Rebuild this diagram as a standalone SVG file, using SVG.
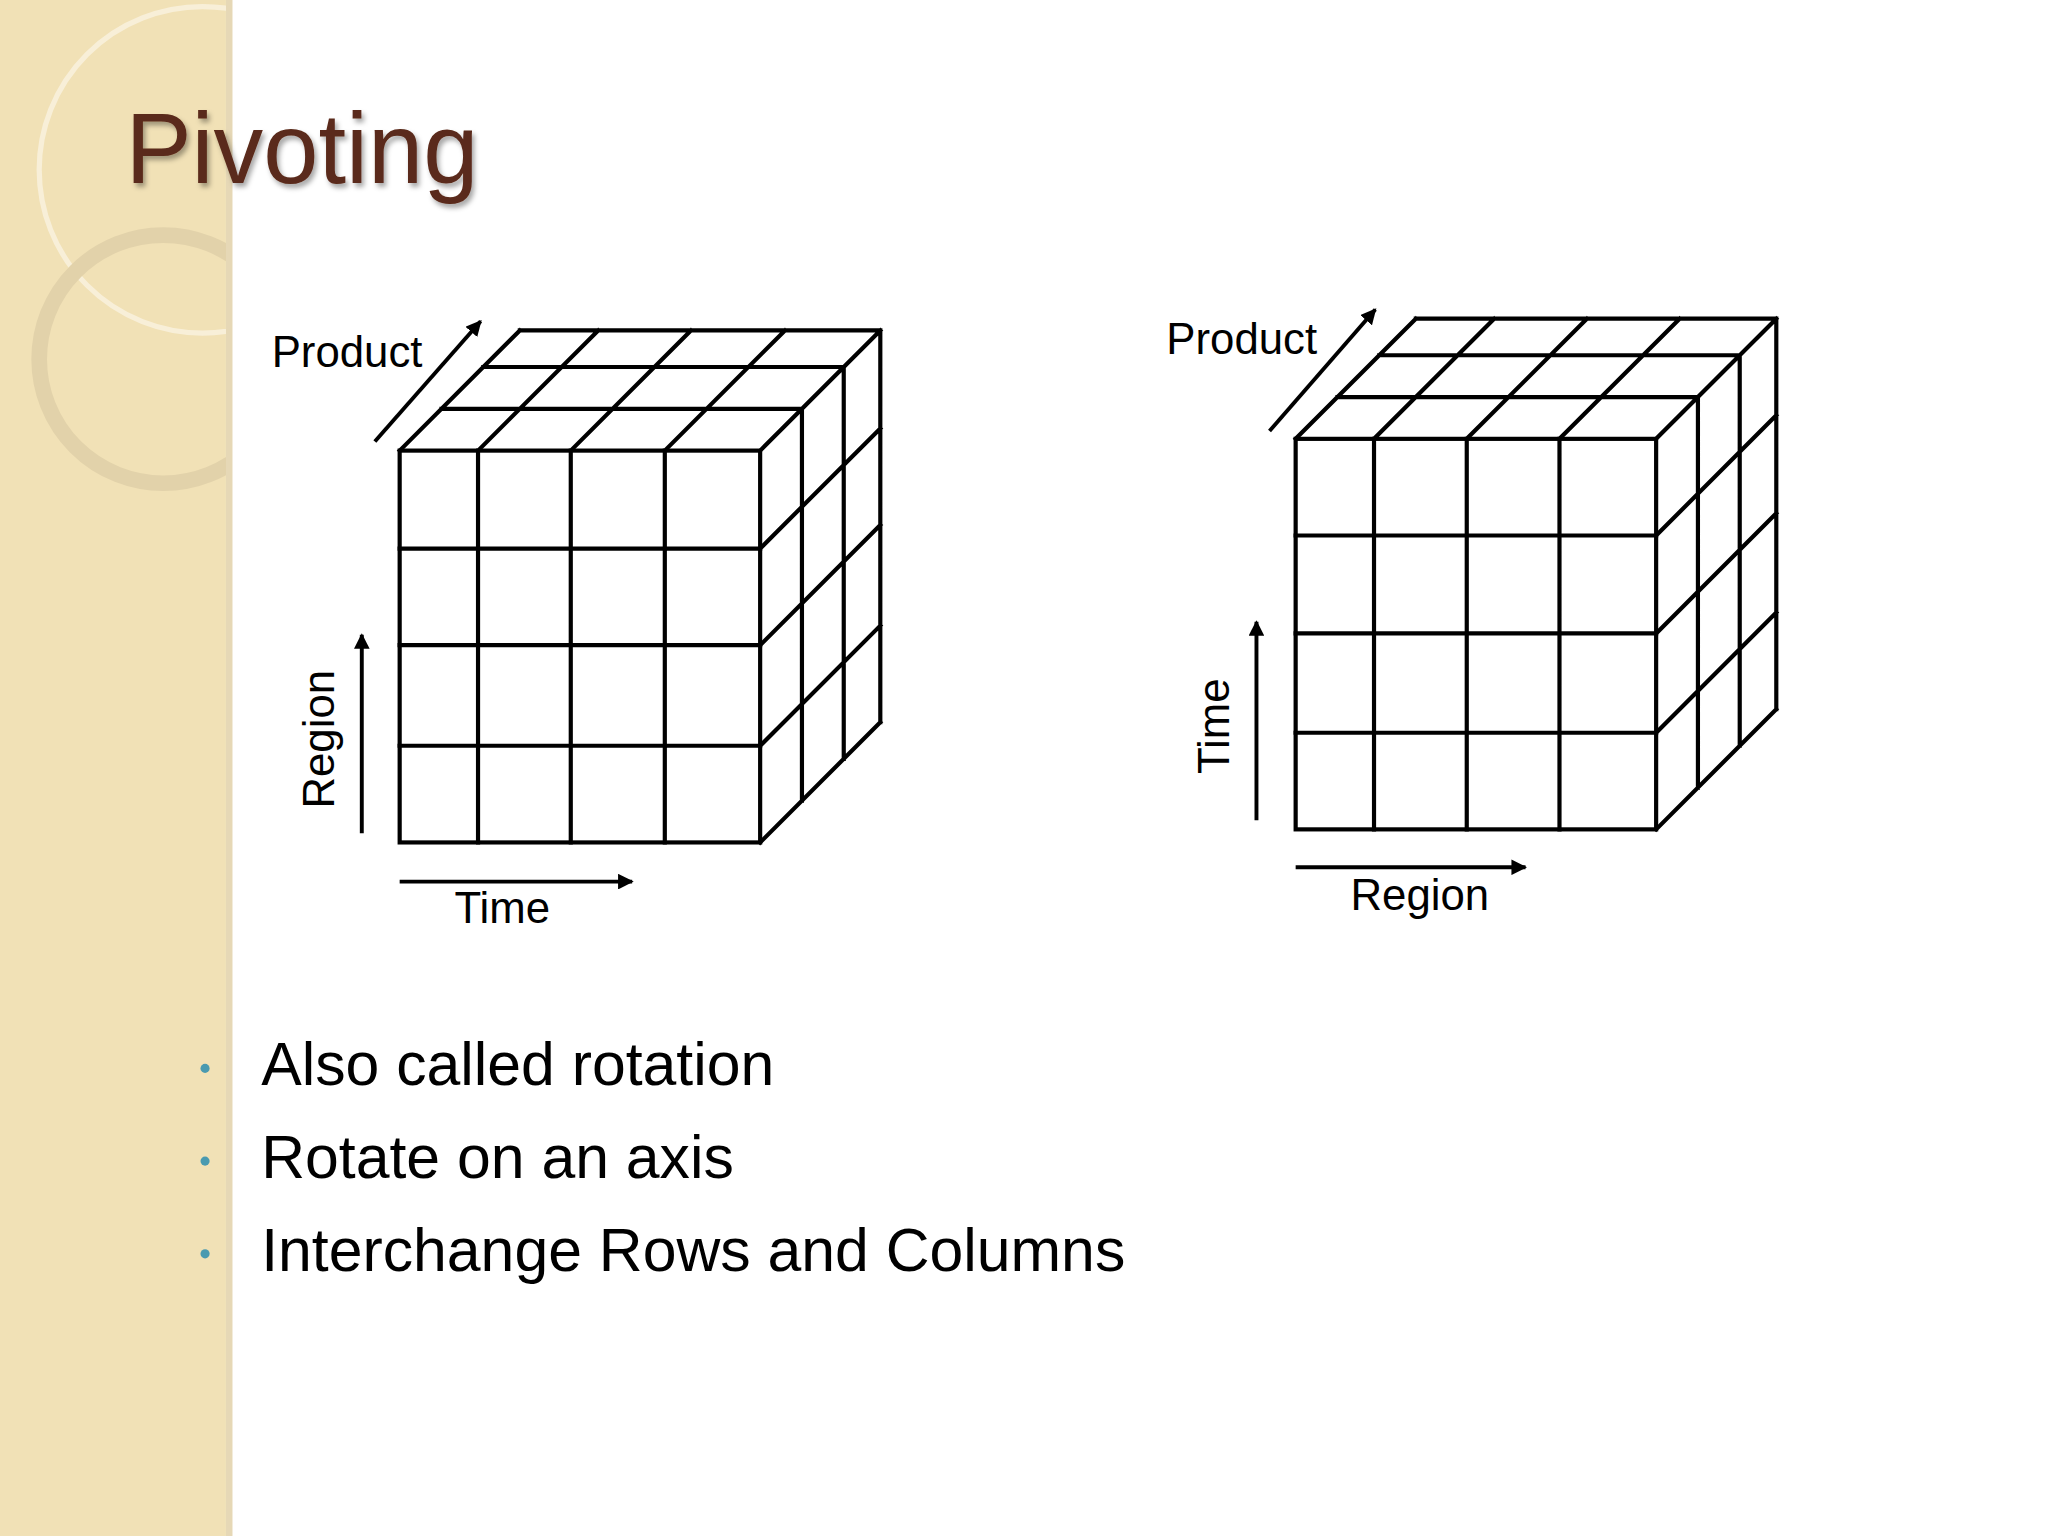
<svg xmlns="http://www.w3.org/2000/svg" width="2048" height="1536" viewBox="0 0 2048 1536">
<style>
.g{stroke:#000;stroke-width:3.2;fill:none;stroke-linecap:square}
.a{stroke:#000;stroke-width:3;fill:none;marker-end:url(#ah)}
.l{font-family:"Liberation Sans",Arial,sans-serif;font-size:33.5px;fill:#000}
.b{font-family:"Liberation Sans",Arial,sans-serif;font-size:46.5px;fill:#000}
</style>
<defs>
<marker id="ah" viewBox="0 0 10 10" refX="9" refY="5" markerWidth="4" markerHeight="4" orient="auto"><path d="M0,0L10,5L0,10z" fill="#000"/></marker>
<filter id="sh"><feDropShadow dx="2" dy="3" stdDeviation="2" flood-color="#000" flood-opacity="0.35"/></filter>
<clipPath id="cp"><rect x="0" y="0" width="173" height="1176"/></clipPath>
</defs>
<rect width="2048" height="1536" fill="#fff"/>
<g transform="scale(1.3061)">
<rect x="0" y="0" width="173" height="1176" fill="#f1e1b6"/>
<rect x="173" y="0" width="5" height="1176" fill="#e6d8b6"/>
<g clip-path="url(#cp)">
<circle cx="155" cy="130" r="125" fill="none" stroke="#f8efd8" stroke-width="4"/>
<circle cx="125" cy="275" r="95" fill="none" stroke="#e2d2aa" stroke-width="12"/>
</g>
<text x="96" y="140" font-family="Liberation Sans,Arial,sans-serif" font-size="76" fill="#5a2a1a" filter="url(#sh)">Pivoting</text>

<g id="cube-left">
<rect class="g" x="306" y="345" width="276" height="300"/>
<path class="g" d="M366,345V645M437,345V645M509,345V645M306,420H582M306,494H582M306,571H582
M338,313H614M370,281H646M398,253H674
M306,345L398,253M366,345L458,253M437,345L529,253M509,345L601,253M582,345L674,253
M614,313V613M646,281V581M674,253V553
M582,420L674,328M582,494L674,402M582,571L674,479M582,645L674,553"/>
</g>
<g id="cube-right">
<rect class="g" x="992" y="336" width="276" height="299"/>
<path class="g" d="M1052,336V635M1123,336V635M1194,336V635M992,410H1268M992,485H1268M992,561H1268
M1024,304H1300M1056,272H1332M1084,244H1360
M992,336L1084,244M1052,336L1144,244M1123,336L1215,244M1194,336L1286,244M1268,336L1360,244
M1300,304V603M1332,272V571M1360,244V543
M1268,410L1360,318M1268,485L1360,393M1268,561L1360,469M1268,635L1360,543"/>
</g>
<g id="connectors">
<line class="a" x1="287" y1="338" x2="368" y2="246"/>
<line class="a" x1="277" y1="638" x2="277" y2="486"/>
<line class="a" x1="306" y1="675" x2="484" y2="675"/>
<line class="a" x1="972" y1="330" x2="1053" y2="237"/>
<line class="a" x1="962" y1="628" x2="962" y2="476"/>
<line class="a" x1="992" y1="664" x2="1168" y2="664"/>
</g>
<text class="l" x="208" y="281">Product</text>
<text class="l" x="348" y="707">Time</text>
<text class="l" transform="translate(256,566) rotate(-90)" text-anchor="middle">Region</text>
<text class="l" x="893" y="271">Product</text>
<text class="l" transform="translate(941,556) rotate(-90)" text-anchor="middle">Time</text>
<text class="l" x="1034" y="697">Region</text>

<circle cx="157" cy="818" r="3.5" fill="#4a9ab0"/>
<circle cx="157" cy="889" r="3.5" fill="#4a9ab0"/>
<circle cx="157" cy="960" r="3.5" fill="#4a9ab0"/>
<text class="b" x="200" y="831">Also called rotation</text>
<text class="b" x="200" y="902">Rotate on an axis</text>
<text class="b" x="200" y="973">Interchange Rows and Columns</text>
</g>
</svg>
